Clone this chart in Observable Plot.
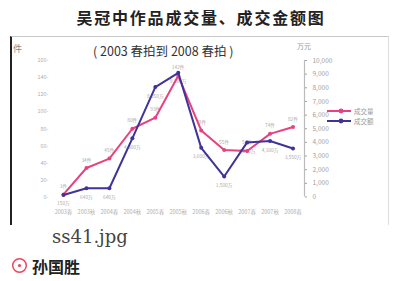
<!DOCTYPE html>
<html><head><meta charset="utf-8">
<script src="https://cdn.jsdelivr.net/npm/d3@7"></script>
<script src="https://cdn.jsdelivr.net/npm/@observablehq/plot@0.6"></script>
<style>
body{margin:0;background:#fff;}
#root{position:relative;width:402px;height:281px;overflow:hidden;font-family:"Noto Sans CJK SC",sans-serif;}
.abs{position:absolute;white-space:nowrap;}
#title{left:0;width:402px;text-align:center;top:9px;font-size:16px;line-height:16px;font-weight:bold;letter-spacing:1.8px;color:#222;}
#frame{left:9.5px;top:36px;width:379px;height:189px;border-left:2px solid #222;border-top:1.5px solid #c8c8c8;border-right:1px solid #ddd;box-sizing:border-box;}
#chart{left:0;top:37px;}
#sub{left:93px;top:45px;font-size:12.5px;line-height:12.5px;color:#333;}
#lunit{left:13px;top:44px;font-size:9px;line-height:9px;color:#888;}
#runit{left:297px;top:43px;font-size:7px;line-height:7px;color:#999;}
.leg{font-size:6.5px;line-height:10px;height:10px;color:#999;display:flex;align-items:center;gap:2px;}
#cap{left:52px;top:228px;font-family:"DejaVu Serif",serif;font-size:18px;line-height:18px;color:#444;}
#author{left:11px;top:257px;font-size:16px;line-height:16px;font-weight:bold;color:#222;display:flex;align-items:center;gap:4px;}
</style></head><body>
<div id="root">
  <div id="title" class="abs">吴冠中作品成交量、成交金额图</div>
  <div id="frame" class="abs"></div>
  <div id="chart" class="abs"></div>
  <div id="sub" class="abs">( 2003 春拍到 2008 春拍 )</div>
  <div id="lunit" class="abs">件</div>
  <div id="runit" class="abs">万元</div>
  <div id="legend" class="abs" style="left:326px;top:106px;"></div>
  <div id="cap" class="abs">ss41.jpg</div>
  <div id="author" class="abs"><svg width="17" height="17" viewBox="0 0 17 17"><circle cx="8.5" cy="8.5" r="6.8" fill="none" stroke="#e8485e" stroke-width="1.5"/><circle cx="8.5" cy="8.5" r="1.6" fill="#e8485e"/></svg><span>孙国胜</span></div>
</div>
<script>
// auctions (spring / autumn sales)
const auctions = ["2003春","2003秋","2004春","2004秋","2005春","2005秋","2006春","2006秋","2007春","2007秋","2008春"];
// 成交量 (件) — left axis
const volumes = [3, 34, 45, 80, 93, 142, 78, 55, 54, 74, 82];
// 成交额 (万元) — right axis
const amounts = [150, 640, 640, 4300, 8050, 9100, 3600, 1500, 4000, 4100, 3550];
// tick labels
const leftTicks = [0, 20, 40, 60, 80, 100, 120, 140, 160];
const rightTickLabels = [0, 1000, 2000, 3000, 4000, 5000, 6000, 7000, 8000, 9000, 10000];
const seriesNames = ["成交量", "成交额"];
const colors = ["#e8417f", "#3f3399"];

const leftMax = 160, rightMax = 10000;
const k = leftMax / rightMax;

const volData = volumes.map((v, i) => ({i, y: v, label: v + "件"}));
const amtData = amounts.map((v, i) => ({i, y: v * k, label: d3.format(",")(v) + "万"}));
const rightTicks = rightTickLabels.map(v => v * k);

const chart = Plot.plot({
  width: 402, height: 188,
  marginLeft: 63, marginRight: 98, marginTop: 23, marginBottom: 28.5,
  x: {domain: [0, 10.5], axis: null},
  y: {domain: [0, leftMax], axis: null},
  style: {background: "transparent", fontFamily: "Noto Sans CJK SC, sans-serif", overflow: "visible"},
  marks: [
    Plot.axisY(leftTicks, {anchor: "left", label: null, tickSize: 0, tickPadding: 15, fontSize: 5.5, color: "#b0b0b0", tickFormat: d => d + "-"}),
    Plot.ruleX([10.5], {y1: 0, y2: leftMax, stroke: "#bbb", strokeWidth: 1.2}),
    Plot.axisY(rightTicks, {anchor: "right", label: null, tickSize: 2, tickPadding: 6, fontSize: 6.5, color: "#a0a0a0", tickFormat: d => d3.format(",")(Math.round(d / k))}),
    Plot.axisX(d3.range(auctions.length), {label: null, tickSize: 0, tickPadding: 13, fontSize: 5.5, color: "#b0b0b0", tickFormat: i => auctions[i]}),
    Plot.text(volData, {x: "i", y: "y", text: "label", dy: -8, fontSize: 4.8, fill: "#aaa"}),
    Plot.text(amtData, {x: "i", y: "y", text: "label", dy: 9, fontSize: 4.8, fill: "#aaa"}),
    Plot.line(volData, {x: "i", y: "y", stroke: colors[0], strokeWidth: 2}),
    Plot.dot(volData, {x: "i", y: "y", r: 2, fill: colors[0]}),
    Plot.line(amtData, {x: "i", y: "y", stroke: colors[1], strokeWidth: 2}),
    Plot.dot(amtData, {x: "i", y: "y", r: 2, fill: colors[1]})
  ]
});
document.getElementById("chart").appendChild(chart);

const leg = document.getElementById("legend");
seriesNames.forEach((name, j) => {
  const row = document.createElement("div");
  row.className = "leg";
  row.innerHTML = `<svg width="26" height="8"><line x1="1" y1="4" x2="25" y2="4" stroke="${colors[j]}" stroke-width="2"/><circle cx="15" cy="4" r="2.4" fill="${colors[j]}"/></svg><span>${name}</span>`;
  leg.appendChild(row);
});
</script>
</body></html>
